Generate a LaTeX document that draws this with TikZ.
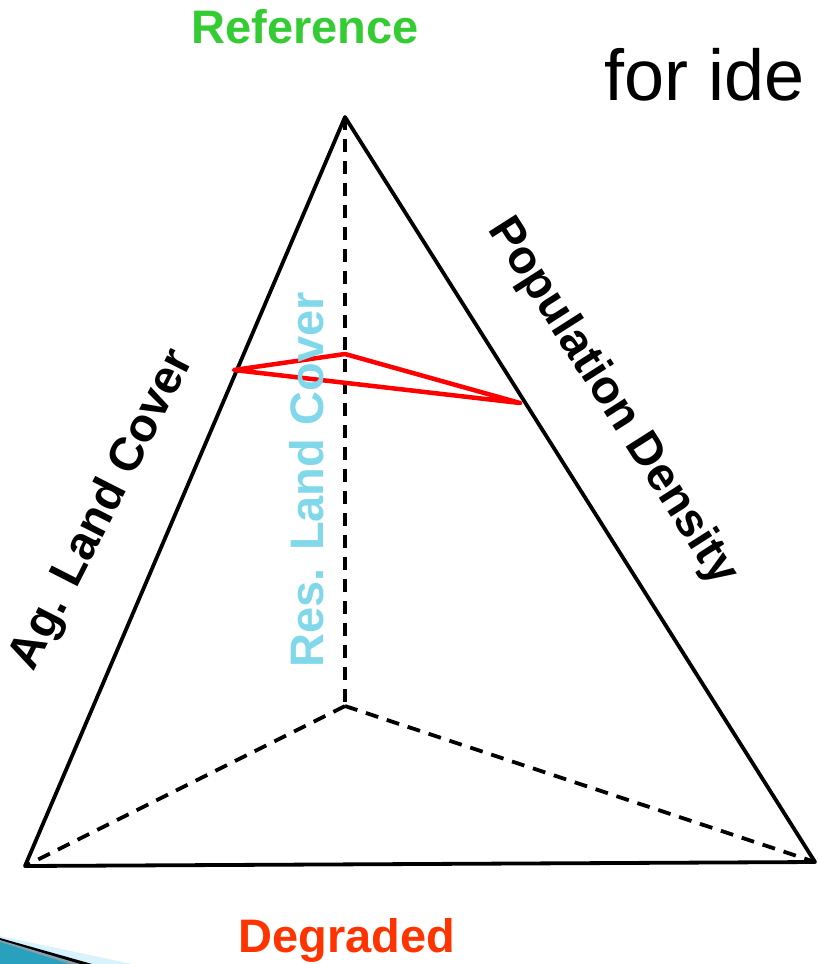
\documentclass[tikz,border=0pt]{standalone}
\usepackage{fontspec}
\setmainfont{Liberation Sans}
\definecolor{refgreen}{RGB}{51,204,51}
\definecolor{degred}{RGB}{255,51,0}
\definecolor{resblue}{RGB}{128,216,234}
\definecolor{swteal}{RGB}{40,160,190}
\begin{document}
\begin{tikzpicture}[x=1pt,y=-1pt,
  edge/.style={line width=3.8pt,line join=round},
  hidden/.style={line width=3.8pt,dash pattern=on 13pt off 9pt},
  redline/.style={line width=4.5pt,red,line join=round},
  lbl/.style={font=\bfseries\fontsize{47}{50}\selectfont,inner sep=0pt}]
\useasboundingbox (0,0) rectangle (817,964);
% swoosh decoration
\fill[cyan!15] (0,936) -- (132,964) -- (0,964) -- cycle;
\fill[black] (0,938) -- (92,964) -- (0,964) -- cycle;
\fill[black!60!cyan!60] (0,940) -- (80,964) -- (0,964) -- cycle;
\fill[swteal] (0,942) -- (70,964) -- (0,964) -- cycle;
% vertices
\coordinate (A) at (345,117);
\coordinate (L) at (25,866);
\coordinate (R) at (815,862);
\coordinate (I) at (345,706);
\coordinate (p1) at (234,370);
\coordinate (p2) at (345,354);
\coordinate (p3) at (520,403);
% hidden edges
\draw[hidden] (A) -- (I);
\draw[hidden] (I) -- (L);
\draw[hidden] (I) -- (R);
% visible edges
\draw[edge] (A) -- (L) -- (R) -- cycle;
% red plane
\draw[redline] (p1) -- (p2) -- (p3) -- cycle;
% labels
\node[lbl,text=refgreen] (ref) at (305,27) {Reference};
\node[lbl,text=degred] (deg) at (347,940) {Degraded};
\node[inner sep=0pt,font=\fontsize{72}{76}\selectfont,anchor=west] (ide) at (604,75) {for ide};
\node[lbl,rotate=-57.5] (pop) at (612,402) {Population Density};
\node[lbl,rotate=63] (ag) at (103,510) {Ag. Land Cover};
\node[lbl,rotate=90,text=resblue] (res) at (307,480) {Res. Land Cover};
\end{tikzpicture}
\end{document}
